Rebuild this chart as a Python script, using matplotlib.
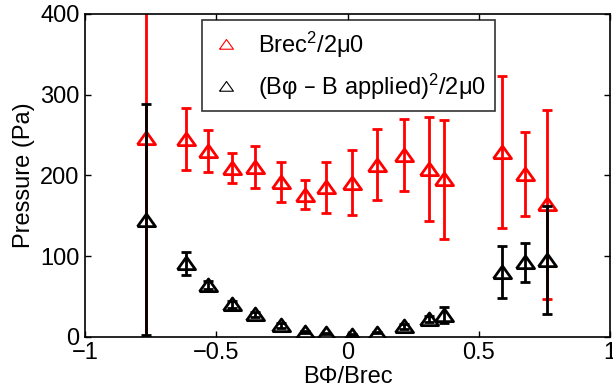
import matplotlib
matplotlib.use("Agg")
import matplotlib.pyplot as plt
from matplotlib.lines import Line2D
from matplotlib.ticker import FuncFormatter

# B-field ratio positions (shared by both series)
b_ratio = [-0.767, -0.614, -0.53, -0.44, -0.354, -0.255, -0.161, -0.081,
           0.018, 0.113, 0.215, 0.31, 0.366, 0.589, 0.677, 0.76]

# Brec^2/2mu0
p_rec = [246, 245, 230, 209, 210, 192, 176, 185, 191, 213, 225, 208, 195, 229, 202, 164]
p_rec_err = [255, 38, 26, 19, 26, 25, 18, 32, 40, 44, 45, 64, 74, 94, 52, 117]

# (Bphi - B applied)^2/2mu0
p_phi = [145, 91, 64, 40, 28, 14, 6, 4, 2, 5, 13, 22, 27, 80, 92, 95]
p_phi_err = [143, 14, 5, 4, 3, 3, 1, 1, 1, 1, 3, 4, 10, 32, 24, 67]

x_ticks = [-1, -0.5, 0, 0.5, 1]
y_ticks = [0, 100, 200, 300, 400]

plt.rcParams["font.family"] = ["Liberation Sans", "DejaVu Sans"]
plt.rcParams["mathtext.default"] = "regular"
plt.rcParams["axes.unicode_minus"] = True

FS = 17
# wide, flat triangle like the MATLAB marker
tri = [(-1, -0.68), (1, -0.68), (0, 0.72), (-1, -0.68)]

W, H = 613, 389
fig = plt.figure(figsize=(W / 100, H / 100), dpi=100)
ax = fig.add_axes([85 / W, 1 - 336.7 / H, (610 - 85) / W, (336.7 - 14) / H])

style = dict(fmt="none", elinewidth=2, capsize=3.5, capthick=2)
ax.errorbar(b_ratio, p_rec, yerr=p_rec_err, ecolor="red", **style)
ax.plot(b_ratio, p_rec, ls="none", marker=tri, markersize=13,
        markerfacecolor="none", markeredgecolor="red", markeredgewidth=2)
ax.errorbar(b_ratio, p_phi, yerr=p_phi_err, ecolor="black", **style)
ax.plot(b_ratio, p_phi, ls="none", marker=tri, markersize=13,
        markerfacecolor="none", markeredgecolor="black", markeredgewidth=2)

ax.set_xlim(-1, 1)
ax.set_ylim(0, 400)
ax.set_xticks(x_ticks)
ax.set_yticks(y_ticks)
ax.xaxis.set_major_formatter(FuncFormatter(lambda v, p: f"{v:g}".replace("-", "\u2212")))
ax.tick_params(direction="in", top=True, right=True, length=4, width=1,
               labelsize=FS, pad=4)
for s in ax.spines.values():
    s.set_linewidth(1.2)

ax.set_xlabel("B\u03a6/Brec", fontsize=FS, labelpad=1)
ax.set_ylabel("Pressure (Pa)", fontsize=FS, labelpad=4)

handles = [
    Line2D([], [], ls="none", marker=tri, markersize=10, markerfacecolor="none",
           markeredgecolor="red", markeredgewidth=0.8),
    Line2D([], [], ls="none", marker=tri, markersize=10, markerfacecolor="none",
           markeredgecolor="black", markeredgewidth=0.8),
]
labels = ["Brec$^2$/2\u03bc0", "(B\u03c6 \u2013 B applied)$^2$/2\u03bc0"]
leg = ax.legend(handles, labels, loc="upper left", bbox_to_anchor=(0.223, 0.981),
                fontsize=FS, frameon=True, fancybox=False, edgecolor="black",
                handlelength=1.2, handletextpad=0.75, borderpad=0.4,
                labelspacing=0.5, borderaxespad=0)
leg.get_frame().set_linewidth(1.2)

fig.savefig("out.png", dpi=100)
